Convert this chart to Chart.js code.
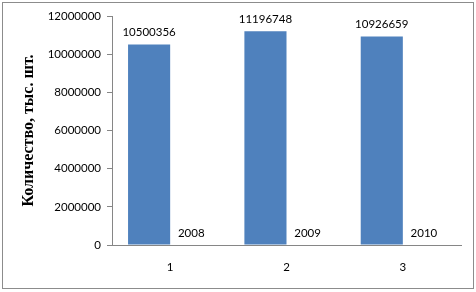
<!DOCTYPE html>
<html>
<head>
<meta charset="utf-8">
<script src="https://cdn.jsdelivr.net/npm/chart.js@4"></script>
<style>
html,body{margin:0;padding:0;background:#fff;}
#wrap{position:relative;width:476px;height:292px;}
#frame{position:absolute;left:2px;top:2px;width:470px;height:285px;border:1px solid #8c8c8c;pointer-events:none;}
canvas{position:absolute;left:0;top:0;}
</style>
</head>
<body>
<div id="wrap">
<canvas id="c" width="476" height="292"></canvas>
<div id="frame"></div>
</div>
<script>
const categories = ['1', '2', '3'];
const quantityValues = [10500356, 11196748, 10926659];
const yearValues = [2008, 2009, 2010];
const yTicks = [0, 2000000, 4000000, 6000000, 8000000, 10000000, 12000000];
const yTitle = 'Количество, тыс. шт.';

const tickFont = {family: 'Lato, "Open Sans", sans-serif', size: 11.5};

const labelPlugin = {
  id: 'barLabels',
  afterDatasetsDraw(chart) {
    const ctx = chart.ctx;
    ctx.save();
    ctx.fillStyle = '#000';
    ctx.font = '11.5px Lato, "Open Sans", sans-serif';
    ctx.textAlign = 'center';
    ctx.textBaseline = 'middle';
    chart.data.datasets.forEach((ds, i) => {
      const meta = chart.getDatasetMeta(i);
      meta.data.forEach((bar, j) => {
        ctx.fillText(String(ds.data[j]), bar.x, bar.y - 12);
      });
    });
    ctx.restore();
  }
};

new Chart(document.getElementById('c'), {
  type: 'bar',
  data: {
    labels: categories,
    datasets: [
      {data: quantityValues, backgroundColor: '#4F81BD', borderWidth: 0},
      {data: yearValues, backgroundColor: 'rgba(192,80,77,0)', borderWidth: 0}
    ]
  },
  options: {
    responsive: false,
    animation: false,
    devicePixelRatio: 1,
    layout: {padding: {left: 8, right: 15, top: 16, bottom: 13}},
    plugins: {legend: {display: false}, tooltip: {enabled: false}},
    datasets: {bar: {categoryPercentage: 0.724, barPercentage: 1}},
    scales: {
      x: {
        grid: {display: false, drawTicks: false},
        border: {display: true, color: '#868686', width: 1},
        ticks: {color: '#000', font: tickFont, padding: 15, maxRotation: 0},
        afterFit(s) { s.height = 34; }
      },
      y: {
        min: 0, max: 12000000,
        afterBuildTicks(s) { s.ticks = yTicks.map(v => ({value: v})); },
        grid: {drawOnChartArea: false, drawTicks: true, tickLength: 5, color: '#868686'},
        border: {display: true, color: '#868686', width: 1},
        ticks: {color: '#000', font: tickFont, padding: 6, callback: v => String(v)},
        title: {display: true, text: yTitle, color: '#000',
                font: {family: '"Liberation Serif", "Times New Roman", serif', size: 16, weight: 'bold'},
                padding: {top: 11, bottom: 0}},
        afterFit(s) { s.width = 104; }
      }
    }
  },
  plugins: [labelPlugin]
});
</script>
</body>
</html>
